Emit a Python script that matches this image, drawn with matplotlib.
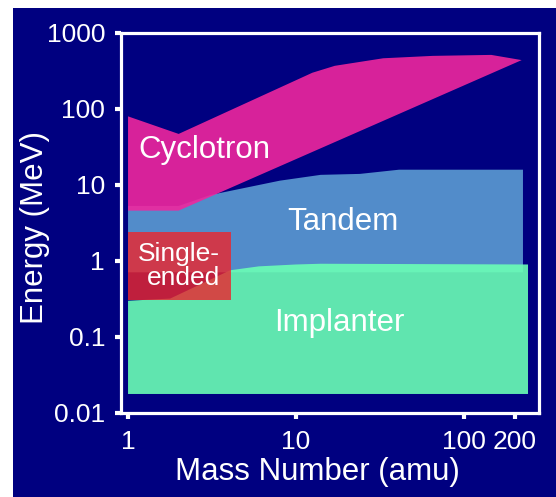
import numpy as np
import matplotlib
matplotlib.use('Agg')
from matplotlib import pyplot as plt
from matplotlib.patches import Rectangle

plt.rcParams['font.family'] = ['Liberation Sans', 'DejaVu Sans']

# accelerator operating regions, mass number (amu) vs energy (MeV)
cyc_top_x = [1, 2, 12.5, 17, 33, 65, 145, 220]
cyc_top_y = [80, 47, 300, 370, 465, 500, 515, 440]
cyc_bot_x = [2, 1]
cyc_bot_y = [4.6, 4.6]

tan_top_x = [1, 2, 3.1, 8, 14, 24, 41, 224]
tan_top_y = [5.3, 5.3, 7.4, 11.4, 13.6, 14, 15.9, 15.9]
tan_bot_x = [224, 1]
tan_bot_y = [0.71, 0.71]

imp_top_x = [1, 1.78, 4.05, 6, 10, 14, 240]
imp_top_y = [0.3, 0.32, 0.755, 0.85, 0.9, 0.92, 0.9]
imp_bot_x = [240, 1]
imp_bot_y = [0.0178, 0.0178]

se_x = [1, 4.1]
se_y = [0.31, 2.4]

xticks = [1, 10, 100, 200]
yticks = [0.01, 0.1, 1, 10, 100, 1000]
ytick_labels = ['0.01', '0.1', '1', '10', '100', '1000']

navy = '#000080'

fig = plt.figure(figsize=(5.56, 4.97), dpi=100)
fig.patch.set_facecolor('white')
fig.patches.append(Rectangle((13 / 556, 0), 1 - 13 / 556, 1 - 8 / 497,
                             transform=fig.transFigure, facecolor=navy,
                             edgecolor='none', zorder=-10))

ax = fig.add_axes([121 / 556, 84 / 497, 418 / 556, 380 / 497])
ax.set_facecolor(navy)
ax.set_xscale('log')
ax.set_yscale('log')

ax.fill(tan_top_x + tan_bot_x, tan_top_y + tan_bot_y,
        color=(82 / 255, 140 / 255, 202 / 255), lw=0, zorder=2)
ax.fill(cyc_top_x + cyc_bot_x, cyc_top_y + cyc_bot_y,
        color=(240 / 255, 38 / 255, 158 / 255), alpha=0.9, lw=0, zorder=3)
ax.fill(imp_top_x + imp_bot_x, imp_top_y + imp_bot_y,
        color=(107 / 255, 1.0, 181 / 255), alpha=0.9, lw=0, zorder=3)
ax.fill_between(se_x, se_y[0], se_y[1],
                color=(235 / 255, 39 / 255, 47 / 255), alpha=0.82, lw=0, zorder=4)

lab = dict(color='white', fontsize=22.5, ha='center', va='center', zorder=5)
ax.text(2.83, 29, 'Cyclotron', **lab)
ax.text(19, 3.26, 'Tandem', **lab)
ax.text(18, 0.155, 'Implanter', **lab)
ax.text(2.0, 0.86, 'Single-\nended', color='white', fontsize=19,
        ha='center', va='center', multialignment='right', linespacing=0.98, zorder=5)

ax.set_xlim(0.908, 279)
ax.set_ylim(0.01, 1000)
ax.set_xticks(xticks)
ax.set_xticklabels([str(t) for t in xticks])
ax.set_yticks(yticks)
ax.set_yticklabels(ytick_labels)
ax.minorticks_off()
ax.tick_params(colors='white', labelcolor='white', labelsize=19,
               length=4.5, width=3, direction='out')
ax.tick_params(axis='x', pad=8)
ax.tick_params(axis='y', pad=7)
for s in ax.spines.values():
    s.set_color('white')
    s.set_linewidth(2.3)

fig.text(317 / 556, 1 - 472 / 497, 'Mass Number (amu)', color='white',
         fontsize=22.5, ha='center', va='center')
fig.text(35 / 556, 1 - 228 / 497, 'Energy (MeV)', color='white',
         fontsize=22.5, ha='center', va='center', rotation=90)

fig.savefig('out.png', dpi=100, facecolor=fig.get_facecolor())
